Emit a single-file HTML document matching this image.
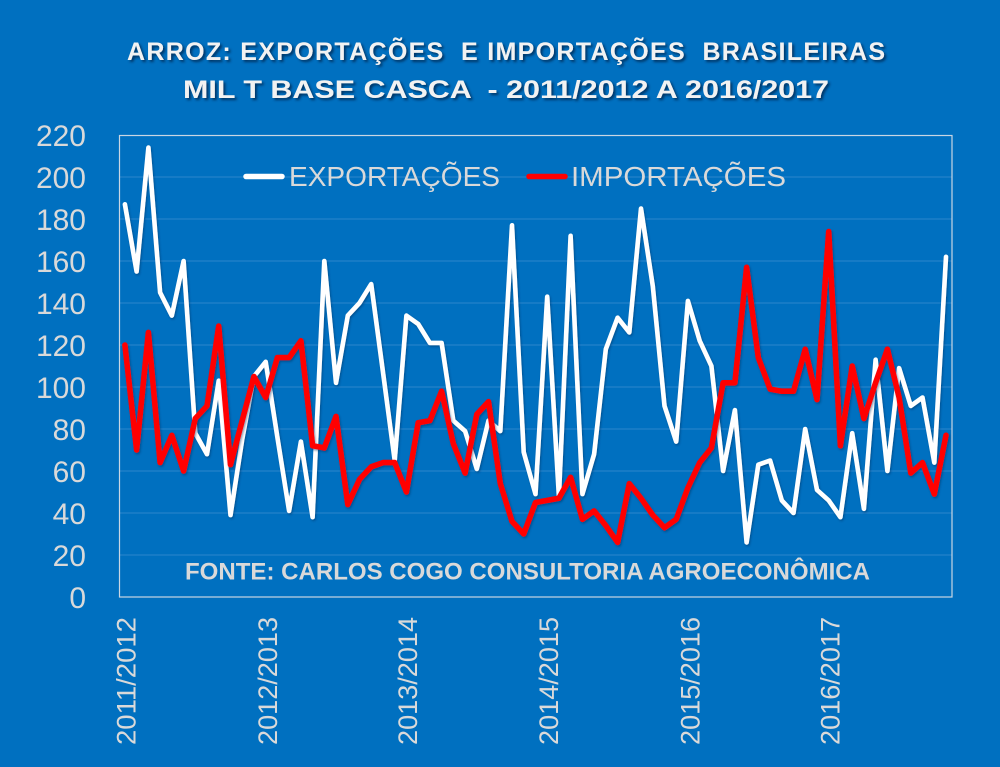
<!DOCTYPE html>
<html>
<head>
<meta charset="utf-8">
<style>
  html,body{margin:0;padding:0;background:#0070c0;}
  svg{display:block;}
  text{font-family:"Liberation Sans",sans-serif;}
</style>
</head>
<body>
<svg width="1000" height="767" viewBox="0 0 1000 767" xmlns="http://www.w3.org/2000/svg">
  <defs>
    <filter id="sh" x="-5%" y="-30%" width="110%" height="160%">
      <feGaussianBlur in="SourceAlpha" stdDeviation="1.2"/>
      <feOffset dx="2" dy="2" result="b"/>
      <feFlood flood-color="#002a55" flood-opacity="0.85"/>
      <feComposite in2="b" operator="in"/>
      <feMerge><feMergeNode/><feMergeNode in="SourceGraphic"/></feMerge>
    </filter>
    <filter id="lsh" x="-5%" y="-5%" width="110%" height="110%">
      <feGaussianBlur in="SourceAlpha" stdDeviation="1"/>
      <feOffset dx="1" dy="1.5" result="b"/>
      <feFlood flood-color="#003060" flood-opacity="0.5"/>
      <feComposite in2="b" operator="in"/>
      <feMerge><feMergeNode/><feMergeNode in="SourceGraphic"/></feMerge>
    </filter>
  </defs>
  <rect width="1000" height="767" fill="#0070c0"/>

  <!-- Title -->
  <g filter="url(#sh)" fill="#f2f2f2" font-weight="bold" font-size="25" style="white-space:pre">
    <text x="127" y="60" textLength="758" lengthAdjust="spacing" xml:space="preserve">ARROZ: EXPORTAÇÕES  E IMPORTAÇÕES  BRASILEIRAS</text>
    <text x="183" y="98" textLength="646" lengthAdjust="spacingAndGlyphs" xml:space="preserve">MIL T BASE CASCA  - 2011/2012 A 2016/2017</text>
  </g>

  <!-- Gridlines -->
  <g stroke="#2d86cc" stroke-width="1">
    <line x1="119" y1="555" x2="952" y2="555"/>
    <line x1="119" y1="513" x2="952" y2="513"/>
    <line x1="119" y1="471" x2="952" y2="471"/>
    <line x1="119" y1="429" x2="952" y2="429"/>
    <line x1="119" y1="387" x2="952" y2="387"/>
    <line x1="119" y1="345" x2="952" y2="345"/>
    <line x1="119" y1="303" x2="952" y2="303"/>
    <line x1="119" y1="261" x2="952" y2="261"/>
    <line x1="119" y1="219" x2="952" y2="219"/>
    <line x1="119" y1="177" x2="952" y2="177"/>
  </g>
  <!-- Plot border -->
  <rect x="119.5" y="135.5" width="832.5" height="461.5" fill="none" stroke="#c9d6e3" stroke-width="1.2"/>

  <!-- Y axis labels -->
  <g fill="#d9d9d9" font-size="30" text-anchor="end">
    <text x="86" y="608">0</text>
    <text x="86" y="566">20</text>
    <text x="86" y="524">40</text>
    <text x="86" y="482">60</text>
    <text x="86" y="440">80</text>
    <text x="86" y="398">100</text>
    <text x="86" y="356">120</text>
    <text x="86" y="314">140</text>
    <text x="86" y="272">160</text>
    <text x="86" y="230">180</text>
    <text x="86" y="188">200</text>
    <text x="86" y="146">220</text>
  </g>

  <!-- X axis labels -->
  <g fill="#d9d9d9" font-size="27" text-anchor="end">
    <text transform="translate(135.5,617) rotate(-90)" textLength="128" lengthAdjust="spacingAndGlyphs">2011/2012</text>
    <text transform="translate(277,617) rotate(-90)" textLength="128" lengthAdjust="spacingAndGlyphs">2012/2013</text>
    <text transform="translate(417,617) rotate(-90)" textLength="128" lengthAdjust="spacingAndGlyphs">2013/2014</text>
    <text transform="translate(558,617) rotate(-90)" textLength="128" lengthAdjust="spacingAndGlyphs">2014/2015</text>
    <text transform="translate(699.5,617) rotate(-90)" textLength="128" lengthAdjust="spacingAndGlyphs">2015/2016</text>
    <text transform="translate(839.5,617) rotate(-90)" textLength="128" lengthAdjust="spacingAndGlyphs">2016/2017</text>
  </g>

  <!-- Export series (white) -->
  <polyline filter="url(#lsh)" fill="none" stroke="#ffffff" stroke-width="4.6" stroke-linejoin="round" stroke-linecap="round"
    points="124.9,204.3 136.6,271.5 148.4,147.6 160.1,292.5 171.8,315.6 183.6,261.0 195.3,433.2 207.0,454.2 218.7,380.7 230.5,515.1 242.2,439.5 253.9,376.5 265.7,361.8 277.4,437.4 289.1,510.9 300.9,441.6 312.6,517.2 324.3,261.0 336.0,382.8 347.8,315.6 359.5,303.0 371.2,284.1 383.0,372.3 394.7,460.5 406.4,315.6 418.2,324.0 429.9,342.9 441.6,342.9 453.3,420.6 465.1,431.1 476.8,468.9 488.5,420.6 500.3,431.1 512.0,225.3 523.7,452.1 535.5,494.1 547.2,296.7 558.9,496.2 570.6,235.8 582.4,494.1 594.1,454.2 605.8,349.2 617.6,317.7 629.3,332.4 641.0,208.5 652.8,286.2 664.5,405.9 676.2,441.6 687.9,300.9 699.7,340.8 711.4,366.0 723.1,471.0 734.9,410.1 746.6,542.4 758.3,464.7 770.1,460.5 781.8,500.4 793.5,513.0 805.2,429.0 817.0,489.9 828.7,500.4 840.4,517.2 852.2,433.2 863.9,508.8 875.6,359.7 887.4,471.0 899.1,368.1 910.8,405.9 922.5,397.5 934.3,462.6 946.0,256.8"/>

  <!-- Import series (red) -->
  <polyline filter="url(#lsh)" fill="none" stroke="#ff0000" stroke-width="5.6" stroke-linejoin="round" stroke-linecap="round"
    points="124.9,345.0 136.6,450.0 148.4,332.4 160.1,462.6 171.8,435.3 183.6,471.0 195.3,418.5 207.0,405.9 218.7,326.1 230.5,464.7 242.2,420.6 253.9,376.5 265.7,397.5 277.4,357.6 289.1,357.6 300.9,340.8 312.6,445.8 324.3,447.9 336.0,416.4 347.8,504.6 359.5,479.4 371.2,466.8 383.0,462.6 394.7,462.6 406.4,492.0 418.2,422.7 429.9,420.6 441.6,391.2 453.3,443.7 465.1,473.1 476.8,414.3 488.5,401.7 500.3,483.6 512.0,521.4 523.7,534.0 535.5,502.5 547.2,500.4 558.9,498.3 570.6,477.3 582.4,519.3 594.1,510.9 605.8,525.6 617.6,542.4 629.3,483.6 641.0,498.3 652.8,515.1 664.5,527.7 676.2,519.3 687.9,487.8 699.7,462.6 711.4,447.9 723.1,382.8 734.9,382.8 746.6,267.3 758.3,357.6 770.1,389.1 781.8,391.2 793.5,391.2 805.2,349.2 817.0,399.6 828.7,231.6 840.4,445.8 852.2,366.0 863.9,418.5 875.6,382.8 887.4,349.2 899.1,397.5 910.8,473.1 922.5,462.6 934.3,494.1 946.0,435.3"/>

  <!-- Legend -->
  <line x1="246" y1="176.5" x2="282" y2="176.5" stroke="#ffffff" stroke-width="5.5" stroke-linecap="round"/>
  <text x="289" y="186" fill="#d9d9d9" font-size="28" textLength="211" lengthAdjust="spacingAndGlyphs">EXPORTAÇÕES</text>
  <line x1="529" y1="176.5" x2="565" y2="176.5" stroke="#ff0000" stroke-width="5.5" stroke-linecap="round"/>
  <text x="571" y="186" fill="#d9d9d9" font-size="28" textLength="215" lengthAdjust="spacingAndGlyphs">IMPORTAÇÕES</text>

  <!-- Source -->
  <text x="185" y="579.5" fill="#d9d9d9" font-size="24.5" font-weight="bold" textLength="685" lengthAdjust="spacingAndGlyphs">FONTE: CARLOS COGO CONSULTORIA AGROECONÔMICA</text>
</svg>
</body>
</html>
